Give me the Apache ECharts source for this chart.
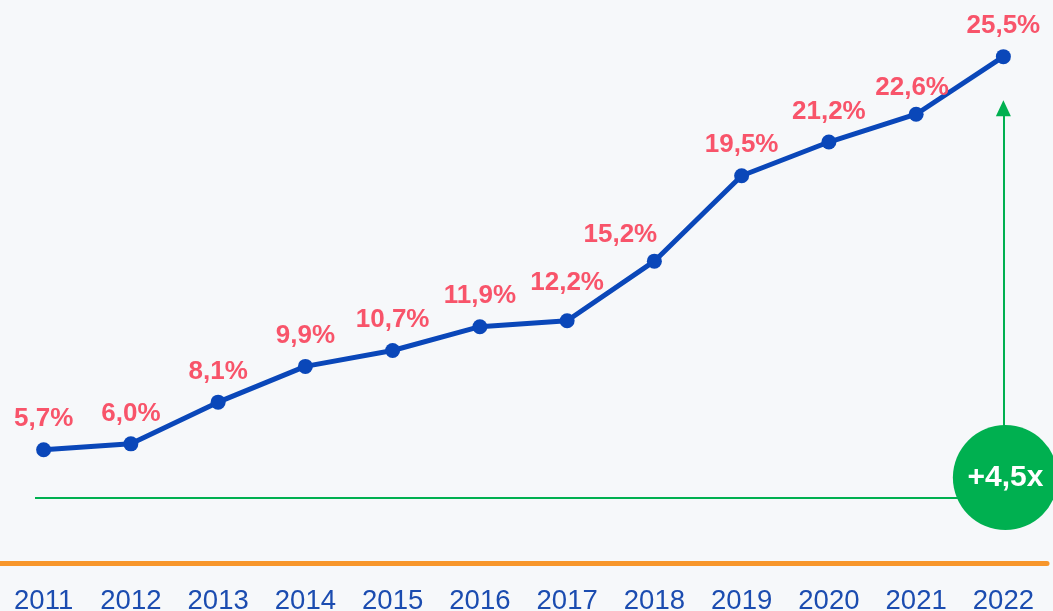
<!DOCTYPE html>
<html>
<head>
<meta charset="utf-8">
<script src="https://cdn.jsdelivr.net/npm/echarts@6/dist/echarts.min.js"></script>
<style>
  html, body { margin: 0; padding: 0; background: #f6f8fa; }
  #chart { width: 1053px; height: 611px; }
</style>
</head>
<body>
<div id="chart"></div>
<script>
const years = ['2011', '2012', '2013', '2014', '2015', '2016', '2017', '2018', '2019', '2020', '2021', '2022'];
const share = [5.7, 6.0, 8.1, 9.9, 10.7, 11.9, 12.2, 15.2, 19.5, 21.2, 22.6, 25.5];
const growthLabel = '+4,5x';
const baseLevel = 3.3;

const blue = '#0a47b9';
const red = '#f8546a';
const green = '#00b050';
const orange = '#f7962b';

// a couple of labels sit a bit off their point in the original
const labelShift = { '2017': [0, -7], '2018': [-34, 4], '2021': [-4, 4] };

const chart = echarts.init(document.getElementById('chart'));

chart.setOption({
  backgroundColor: '#f6f8fa',
  animation: false,
  grid: { left: 0, right: 6, top: 7, bottom: 48, containLabel: false, outerBoundsMode: 'none' },
  xAxis: {
    type: 'category',
    data: years,
    boundaryGap: true,
    axisLine: { lineStyle: { color: orange, width: 5 } },
    axisTick: { show: false },
    axisLabel: {
      color: '#1b4cb0',
      fontFamily: 'Liberation Sans, Arial, sans-serif',
      fontSize: 27.5,
      margin: 24
    }
  },
  yAxis: {
    type: 'value',
    min: 0,
    max: 28,
    show: false,
    splitLine: { show: false }
  },
  series: [{
    type: 'line',
    data: share.map((v, i) => ({
      value: v,
      label: labelShift[years[i]] ? { offset: labelShift[years[i]] } : undefined
    })),
    symbol: 'circle',
    symbolSize: 15,
    lineStyle: { color: blue, width: 5 },
    itemStyle: { color: blue },
    label: {
      show: true,
      position: 'top',
      distance: 10,
      color: red,
      fontFamily: 'Liberation Sans, Arial, sans-serif',
      fontWeight: 'bold',
      fontSize: 26,
      formatter: p => p.value.toFixed(1).replace('.', ',') + '%'
    },
    markPoint: {
      silent: true,
      animation: false,
      symbol: 'circle',
      symbolSize: 105,
      symbolOffset: [2, 0],
      itemStyle: { color: green },
      label: {
        show: true,
        color: '#ffffff',
        fontFamily: 'Liberation Sans, Arial, sans-serif',
        fontWeight: 'bold',
        fontSize: 30,
        formatter: growthLabel
      },
      data: [{ coord: ['2022', 4.3] }]
    }
  }]
});

// baseline starts a little left of the first point, so place its start in pixels
const baseY = chart.convertToPixel({ yAxisIndex: 0 }, baseLevel);
chart.setOption({
  series: [{
    markLine: {
      silent: true,
      animation: false,
      label: { show: false },
      lineStyle: { color: green, width: 2, type: 'solid' },
      data: [
        [
          { x: 35, y: baseY, symbol: 'none' },
          { coord: ['2022', baseLevel], symbol: 'none' }
        ],
        [
          { coord: ['2022', 6.9], symbol: 'none' },
          { coord: ['2022', 22.9], symbol: 'triangle', symbolSize: [15, 16] }
        ]
      ]
    }
  }]
});
</script>
</body>
</html>
